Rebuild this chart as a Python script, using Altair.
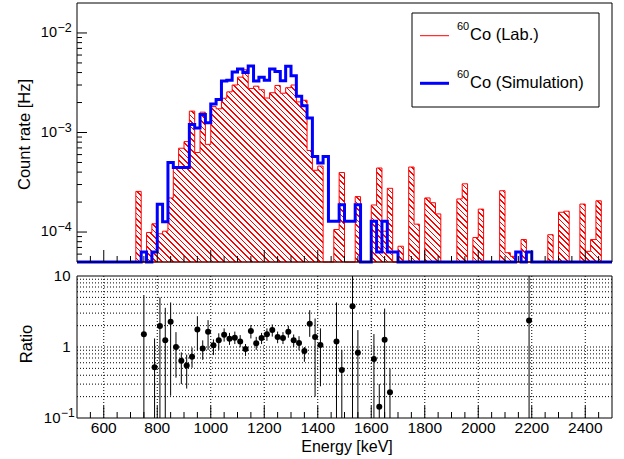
import math
import altair as alt
import pandas as pd

# ---------------- data ----------------
E0, BW, NB = 500, 20, 100          # 20 keV bins from 500 to 2500 keV

lab = [0, 0, 0, 0, 0, 0, 0, 0, 0, 0,
       0, 2.56e-4, 4.2e-5, 9.9e-5, 1.21e-4, 9.6e-5, 1.02e-4, 2.2e-4, 4.45e-4, 6.95e-4,
       8.1e-4, 1.64e-3, 6.3e-4, 1.6e-3, 7.6e-4, 1.82e-3, 1.73e-3, 2.21e-3, 2.56e-3, 3.0e-3,
       3.6e-3, 4.26e-3, 2.77e-3, 2.92e-3, 2.69e-3, 2.22e-3, 2.51e-3, 2.97e-3, 2.48e-3, 2.82e-3,
       3.0e-3, 2.03e-3, 2.11e-3, 6.6e-4, 4.17e-4, 4.6e-4, 0, 0, 1.06e-4, 3.96e-4,
       0, 3.4e-5, 2.27e-4, 0, 0, 1.87e-4, 4.4e-4, 1.02e-4, 2.75e-4, 0,
       7.2e-5, 0, 4.5e-4, 1.2e-4, 0, 2.2e-4, 1.97e-4, 1.52e-4, 0, 0,
       0, 2.15e-4, 3.05e-4, 0, 8.8e-5, 1.7e-4, 0, 0, 0, 2.6e-4,
       6.2e-5, 5.7e-5, 0, 8.4e-5, 2.7e-5, 0, 0, 0, 9.4e-5, 0,
       1.58e-4, 1.62e-4, 0, 0, 1.91e-4, 6.4e-5, 8.4e-5, 2.06e-4, 0, 0]

sim = [0, 0, 0, 0, 0, 0, 0, 0, 0, 0,
       0, 0, 6.3e-5, 0, 6.3e-5, 1.9e-4, 1.27e-4, 5.0e-4, 4.45e-4, 4.45e-4,
       4.45e-4, 1.2e-3, 1.11e-3, 1.52e-3, 1.25e-3, 1.93e-3, 2.15e-3, 3.3e-3, 3.35e-3, 4.05e-3,
       4.35e-3, 4.0e-3, 4.65e-3, 3.3e-3, 3.6e-3, 3.35e-3, 4.35e-3, 4.1e-3, 3.32e-3, 4.62e-3,
       3.72e-3, 2.31e-3, 1.86e-3, 1.40e-3, 5.75e-4, 4.93e-4, 5.75e-4, 1.28e-4, 1.28e-4, 1.88e-4,
       1.28e-4, 1.28e-4, 1.88e-4, 0, 0, 1.28e-4, 6.3e-5, 1.28e-4, 6.3e-5, 6.3e-5,
       0, 0, 0, 0, 0, 0, 0, 0, 0, 0,
       0, 0, 0, 0, 0, 0, 0, 0, 0, 0,
       0, 0, 6.3e-5, 0, 6.3e-5, 0, 0, 0, 0, 0,
       0, 0, 0, 0, 0, 0, 0, 0, 0, 0]

ratio_e = [750, 790, 810, 830, 850, 870, 890, 910, 930, 950,
           970, 990, 1010, 1030, 1050, 1070, 1090, 1110, 1130, 1150,
           1170, 1190, 1210, 1230, 1250, 1270, 1290, 1310, 1330, 1350,
           1370, 1390, 1410, 1470, 1490, 1530, 1550, 1610, 1630, 1650,
           1670, 2190]
ratio_v = [1.51, 0.52, 1.97, 1.24, 2.26, 1.0, 0.64, 0.55, 0.73, 1.77,
           0.95, 1.64, 1.06, 1.24, 1.49, 1.31, 1.35, 1.2, 0.94, 1.68,
           1.13, 1.34, 1.51, 1.73, 1.38, 1.34, 1.64, 1.24, 1.14, 0.88,
           2.13, 1.38, 1.07, 1.2, 0.475, 3.76, 0.83, 0.68, 0.144, 1.26,
           0.23, 2.37]
ratio_lo = [0.01, 0.01, 0.01, 0.01, 0.206, 0.37, 0.30, 0.26, 0.51, 0.89,
            0.66, 0.91, 0.77, 0.91, 1.19, 1.07, 1.1, 0.99, 0.75, 1.32,
            0.91, 1.1, 1.22, 1.4, 1.13, 1.1, 1.35, 1.0, 0.9, 0.62,
            1.39, 0.2, 0.28, 0.01, 0.01, 0.01, 0.01, 0.01, 0.01, 0.01,
            0.01, 0.01]
ratio_hi = [5.4, 1.32, 4.98, 3.56, 4.24, 1.62, 0.84, 0.78, 0.98, 2.72,
            1.24, 2.39, 1.28, 1.56, 1.83, 1.58, 1.65, 1.47, 1.1, 2.04,
            1.39, 1.58, 1.83, 2.08, 1.65, 1.62, 2.0, 1.5, 1.42, 1.0,
            3.3, 2.52, 1.83, 4.24, 0.91, 100, 1.73, 1.52, 0.30, 3.48,
            0.5, 100]

x_major = [600, 800, 1000, 1200, 1400, 1600, 1800, 2000, 2200, 2400]
x_labels = ["600", "800", "1000", "1200", "1400", "1600", "1800", "2000", "2200", "2400"]
x_minor = [e for e in range(550, 2500, 50) if e not in x_major]
yt_major = [1e-4, 1e-3, 1e-2]
yt_exp = ["\u22124", "\u22123", "\u22122"]
yt_minor = [m * 10.0 ** k for k in (-5, -4, -3) for m in range(2, 10) if 5e-5 < m * 10.0 ** k < 2e-2]
yb_grid = [m * 10.0 ** k for k in (-1, 0) for m in range(2, 10)] + [1.0]

legend_sup = "60"
legend_text = ["Co (Lab.)", "Co (Simulation)"]

# ---------------- layout ----------------
FONT = "Liberation Sans"
W, H = 535, 415          # whole plotting region (both panels)
HT = 259                 # bottom of upper panel
BT, BB = 273, 415        # lower panel top / bottom
YMIN, YMAX = 5e-5, 2e-2

xscale = alt.Scale(domain=[E0, E0 + BW * NB], nice=False, zero=False)


def X(f):
    return alt.X(f, type="quantitative", scale=xscale, axis=None)


def YT(f):
    return alt.Y(f, type="quantitative", axis=None,
                 scale=alt.Scale(type="log", domain=[YMIN, YMAX], range=[HT, 0], nice=False, clamp=True))


def YB(f):
    return alt.Y(f, type="quantitative", axis=None,
                 scale=alt.Scale(type="log", domain=[0.1, 10], range=[BB, BT], nice=False, clamp=True))


edges = [E0 + BW * i for i in range(NB + 1)]
lab_p = [v if v > 0 else YMIN for v in lab]
sim_p = [v if v > 0 else YMIN for v in sim]
hist = pd.DataFrame({"e": edges, "lab": lab_p + [lab_p[-1]], "sim": sim_p + [sim_p[-1]]})

ratio = pd.DataFrame({"e": ratio_e, "r": ratio_v, "lo": ratio_lo, "hi": ratio_hi})

# hatch (\\\) via hard-edged linear gradient over the area's bounding box
lmin, lmax = math.log10(YMIN), math.log10(YMAX)
top_px = HT * (lmax - math.log10(max(lab))) / (lmax - lmin)
Hb = HT - top_px
Lg = W + Hb
dxg = Lg * W / (W ** 2 + Hb ** 2)
period = 4.0
N = int(round(Lg / (period * math.sqrt(2))))
frac = 0.3
RED = "#ff0000"
CLEAR = "rgba(255,0,0,0)"
stops = []
for k in range(N):
    a, b, c = k / N, (k + frac) / N, (k + 1) / N
    stops += [alt.GradientStop(color=RED, offset=a), alt.GradientStop(color=RED, offset=b),
              alt.GradientStop(color=CLEAR, offset=b), alt.GradientStop(color=CLEAR, offset=min(c, 1.0))]
grad = alt.LinearGradient(gradient="linear", stops=stops, x1=0, y1=1, x2=dxg, y2=1 - dxg * Hb / W)

one = pd.DataFrame({"a": [0]})

layers = []

# --- upper panel ---
layers.append(alt.Chart(hist).mark_area(interpolate="step-after", fill=grad, stroke=RED, strokeWidth=1)
              .encode(x=X("e"), y=YT("lab"), y2=alt.value(HT)))
layers.append(alt.Chart(hist).mark_line(interpolate="step-after", color="#0000ff", strokeWidth=3)
              .encode(x=X("e"), y=YT("sim")))

# --- lower panel grid ---
layers.append(alt.Chart(pd.DataFrame({"v": x_major})).mark_rule(color="#000000", strokeWidth=1, strokeDash=[1, 2])
              .encode(x=X("v"), y=alt.value(BT), y2=alt.value(BB)))
layers.append(alt.Chart(pd.DataFrame({"v": yb_grid})).mark_rule(color="#000000", strokeWidth=1, strokeDash=[1, 2])
              .encode(y=YB("v"), x=alt.value(0), x2=alt.value(W)))

# --- ratio points ---
layers.append(alt.Chart(ratio).mark_rule(color="#000000", strokeWidth=1)
              .encode(x=X("e"), y=YB("lo"), y2=alt.Y2("hi")))
layers.append(alt.Chart(ratio).mark_circle(size=36, color="#000000", opacity=1)
              .encode(x=X("e"), y=YB("r")))

# --- frames ---
layers.append(alt.Chart(one).mark_rect(filled=False, stroke="#000000", strokeWidth=1)
              .encode(x=alt.value(0), x2=alt.value(W), y=alt.value(0), y2=alt.value(HT)))
layers.append(alt.Chart(one).mark_rect(filled=False, stroke="#000000", strokeWidth=1)
              .encode(x=alt.value(0), x2=alt.value(W), y=alt.value(BT), y2=alt.value(BB)))

# --- ticks ---
layers.append(alt.Chart(pd.DataFrame({"v": yt_major})).mark_rule(color="#000000")
              .encode(y=YT("v"), x=alt.value(0), x2=alt.value(10)))
layers.append(alt.Chart(pd.DataFrame({"v": yt_minor})).mark_rule(color="#000000")
              .encode(y=YT("v"), x=alt.value(0), x2=alt.value(5)))
for (yb, vals, ln) in [(HT, x_major, 12), (HT, x_minor, 6), (BB, x_major, 12), (BB, x_minor, 6)]:
    layers.append(alt.Chart(pd.DataFrame({"v": vals})).mark_rule(color="#000000")
                  .encode(x=X("v"), y=alt.value(yb), y2=alt.value(yb - ln)))

# --- axis labels ---
layers.append(alt.Chart(pd.DataFrame({"v": x_major, "t": x_labels}))
              .mark_text(font=FONT, fontSize=15.5, align="center", baseline="middle", color="#000000")
              .encode(x=X("v"), y=alt.value(424.5), text="t:N"))
tl = pd.DataFrame({"v": yt_major, "e": yt_exp})
layers.append(alt.Chart(tl).mark_text(font=FONT, fontSize=14.5, align="right", baseline="middle")
              .encode(y=YT("v"), x=alt.value(-20), text=alt.value("10")))
layers.append(alt.Chart(tl).mark_text(font=FONT, fontSize=12.5, align="left", baseline="middle", dy=-5)
              .encode(y=YT("v"), x=alt.value(-19.5), text="e:N"))
layers.append(alt.Chart(pd.DataFrame({"v": [10.0, 1.0], "t": ["10", "1"]}))
              .mark_text(font=FONT, fontSize=15, align="right", baseline="middle")
              .encode(y=YB("v"), x=alt.value(-6.5), text="t:N"))
layers.append(alt.Chart(pd.DataFrame({"v": [0.1]})).mark_text(font=FONT, fontSize=15, align="right", baseline="middle")
              .encode(y=YB("v"), x=alt.value(-16.5), text=alt.value("10")))
layers.append(alt.Chart(pd.DataFrame({"v": [0.1]})).mark_text(font=FONT, fontSize=12, align="left", baseline="middle", dy=-5)
              .encode(y=YB("v"), x=alt.value(-16), text=alt.value("\u22121")))

# axis titles
layers.append(alt.Chart(one).mark_text(font=FONT, fontSize=16, align="center", baseline="middle")
              .encode(x=alt.value(270), y=alt.value(443.5), text=alt.value("Energy [keV]")))
layers.append(alt.Chart(one).mark_text(font=FONT, fontSize=16.5, align="center", baseline="middle", angle=270)
              .encode(x=alt.value(-52.5), y=alt.value(131.5), text=alt.value("Count rate [Hz]")))
layers.append(alt.Chart(one).mark_text(font=FONT, fontSize=16.5, align="center", baseline="middle", angle=270)
              .encode(x=alt.value(-50.3), y=alt.value(341), text=alt.value("Ratio")))

# --- legend ---
layers.append(alt.Chart(one).mark_rect(fill="#ffffff", stroke="#000000", strokeWidth=1)
              .encode(x=alt.value(335), x2=alt.value(522), y=alt.value(10), y2=alt.value(104)))
layers.append(alt.Chart(one).mark_rule(color=RED, strokeWidth=1)
              .encode(x=alt.value(343), x2=alt.value(372), y=alt.value(32.7)))
layers.append(alt.Chart(one).mark_rule(color="#0000ff", strokeWidth=3)
              .encode(x=alt.value(343), x2=alt.value(372), y=alt.value(80.3)))
for yy, txt in [(32.0, legend_text[0]), (79.5, legend_text[1])]:
    layers.append(alt.Chart(one).mark_text(font=FONT, fontSize=11, align="left", baseline="middle")
                  .encode(x=alt.value(380), y=alt.value(yy - 8), text=alt.value(legend_sup)))
    layers.append(alt.Chart(one).mark_text(font=FONT, fontSize=16.5, align="left", baseline="middle")
                  .encode(x=alt.value(393), y=alt.value(yy), text=alt.value(txt)))

chart = (alt.layer(*layers)
         .resolve_scale(y="independent")
         .properties(width=W, height=H,
                     autosize=alt.AutoSizeParams(type="none"),
                     padding={"left": 77, "right": 12, "top": 3, "bottom": 41},
                     background="#ffffff")
         .configure_view(stroke=None))

chart.save("out.html", embed_options={"renderer": "svg", "actions": False})
